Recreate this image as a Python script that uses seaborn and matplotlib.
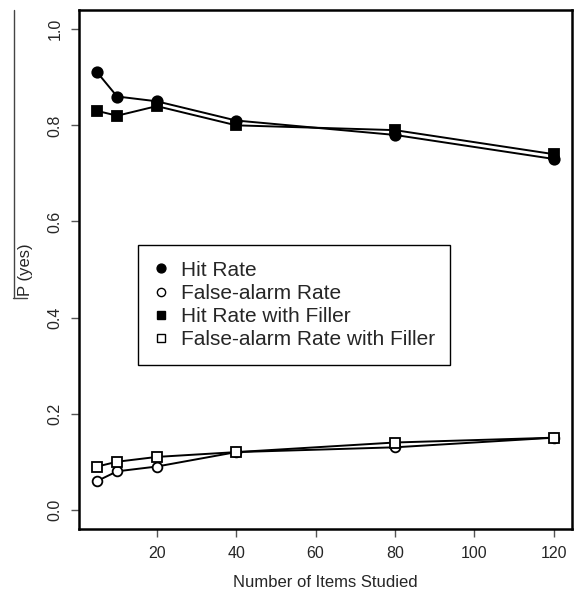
import matplotlib
matplotlib.use("Agg")
import matplotlib.pyplot as plt
from matplotlib.lines import Line2D
import seaborn as sns
import pandas as pd

items = [5, 10, 20, 40, 80, 120]
hit_rate = [0.91, 0.86, 0.85, 0.81, 0.78, 0.73]
fa_rate = [0.06, 0.08, 0.09, 0.12, 0.13, 0.15]
hit_filler = [0.83, 0.82, 0.84, 0.80, 0.79, 0.74]
fa_filler = [0.09, 0.10, 0.11, 0.12, 0.14, 0.15]
labels = ["Hit Rate", "False-alarm Rate", "Hit Rate with Filler",
          "False-alarm Rate with Filler"]
x_ticks = [20, 40, 60, 80, 100, 120]
y_ticks = [0.0, 0.2, 0.4, 0.6, 0.8, 1.0]

sns.set_style("white")
plt.rcParams['font.family'] = ['Liberation Sans', 'DejaVu Sans']

fig = plt.figure(figsize=(5.76, 5.93), dpi=100)
ax = fig.add_axes([79/576, 1-529/593, (572-79)/576, (529-10)/593])

series = [hit_rate, fa_rate, hit_filler, fa_filler]
styles = [("o", "black", 7.5), ("o", "white", 7.0), ("s", "black", 6.8), ("s", "white", 7.2)]
for vals, lab, (m, fc, ms) in zip(series, labels, styles):
    df = pd.DataFrame({"items": items, "p": vals})
    sns.lineplot(data=df, x="items", y="p", ax=ax, color="black", linewidth=1.4,
                 marker=m, markersize=ms, markerfacecolor=fc,
                 markeredgecolor="black", markeredgewidth=1.3)

ax.set_xlim(0.4, 124.6)
ax.set_ylim(-0.04, 1.04)
ax.set_xticks(x_ticks)
ax.set_yticks(y_ticks)
ax.set_xticklabels([str(t) for t in x_ticks], fontsize=11.5)
ax.set_yticklabels([f"{t:.1f}" for t in y_ticks], fontsize=11.5, rotation=90, va="center")
ax.tick_params(axis="both", direction="out", length=6, width=1, color="#555555",
               left=True, bottom=True, pad=6)
for s in ax.spines.values():
    s.set_visible(True)
    s.set_color("black")
    s.set_linewidth(1.8)
ax.set_xlabel("Number of Items Studied", fontsize=12, labelpad=10)
ax.set_ylabel("P (yes)", fontsize=12, labelpad=14)
ax.yaxis.set_label_coords(-0.094, 0.50)

handles = [Line2D([], [], linestyle="none", marker=m, markersize=ms*0.85,
                  markerfacecolor=fc, markeredgecolor="black", markeredgewidth=1)
           for (m, fc, ms) in styles]
leg = ax.legend(handles, labels, loc="upper left",
                bbox_to_anchor=(138/576, 1-245/593), bbox_transform=fig.transFigure,
                fontsize=15, frameon=True, fancybox=False, framealpha=1,
                edgecolor="black", borderpad=0.75, labelspacing=0.2,
                handlelength=0.7, handletextpad=0.6, borderaxespad=0)
leg.get_frame().set_linewidth(1.0)

# bracket-like line at left margin
fig.add_artist(Line2D([14/576, 14/576], [1-10/593, 1-298/593], color="#444444", lw=1))
fig.add_artist(Line2D([13/576, 27/576], [1-298/593, 1-298/593], color="#444444", lw=1))

fig.savefig("out.png", dpi=100)
